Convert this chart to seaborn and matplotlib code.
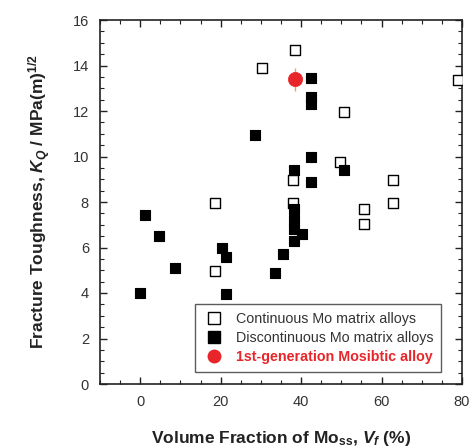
import matplotlib
matplotlib.use("Agg")
import matplotlib.pyplot as plt
import seaborn as sns
import pandas as pd
from matplotlib.lines import Line2D
from matplotlib.ticker import MultipleLocator

# ---- data ----
cont_x = [38.6, 30.4, 50.6, 78.9, 49.6, 37.9, 62.9, 18.6, 37.9, 55.7, 62.9, 55.7, 18.6]
cont_y = [14.7, 13.9, 11.95, 13.35, 9.75, 8.95, 8.95, 7.95, 7.95, 7.7, 7.95, 7.05, 4.95]

disc_x = [42.5, 42.5, 42.5, 28.5, 42.5, 38.3, 50.7, 42.5, 38.2, 38.3, 38.3, 38.3, 40.2,
          1.25, 4.6, 20.4, 21.25, 35.6, 8.75, 33.5, 0.0, 21.25]
disc_y = [13.45, 12.6, 12.3, 10.95, 10.0, 9.4, 9.4, 8.9, 7.7, 7.2, 6.8, 6.3, 6.6,
          7.45, 6.5, 6.0, 5.6, 5.7, 5.1, 4.9, 4.0, 3.95]

mosi_x = [38.6]
mosi_y = [13.4]
mosi_err = [0.5]

labels = ["Continuous Mo matrix alloys",
          "Discontinuous Mo matrix alloys",
          "1st-generation Mosibtic alloy"]

cont = pd.DataFrame({"x": cont_x, "y": cont_y})
disc = pd.DataFrame({"x": disc_x, "y": disc_y})
mosi = pd.DataFrame({"x": mosi_x, "y": mosi_y, "e": mosi_err})

sns.set_style("ticks")
plt.rcParams["font.family"] = ["Liberation Sans", "DejaVu Sans"]
plt.rcParams["mathtext.fontset"] = "custom"
plt.rcParams["mathtext.rm"] = "Liberation Sans"
plt.rcParams["mathtext.it"] = "Liberation Sans:italic:bold"
plt.rcParams["mathtext.bf"] = "Liberation Sans:bold"

fig = plt.figure(figsize=(4.71, 4.48), dpi=100)
ax = fig.add_axes([100/471, 1-384/448, 362/471, 364/448])

sns.scatterplot(data=cont, x="x", y="y", ax=ax, marker="s", s=60,
                facecolor="white", edgecolor="black", linewidth=1.0, zorder=3)
sns.scatterplot(data=disc, x="x", y="y", ax=ax, marker="s", s=60,
                color="black", edgecolor="black", linewidth=0.8, zorder=3)
ax.errorbar(mosi["x"], mosi["y"], yerr=mosi["e"], fmt="none", ecolor="#e8a060",
            elinewidth=1.0, capsize=0, zorder=4)
sns.scatterplot(data=mosi, x="x", y="y", ax=ax, marker="o", s=105,
                color="#e8262a", edgecolor="#e8262a", linewidth=0.5, zorder=5)

ax.set_xlim(-10, 80)
ax.set_ylim(0, 16)
ax.xaxis.set_major_locator(MultipleLocator(20))
ax.xaxis.set_minor_locator(MultipleLocator(5))
ax.yaxis.set_major_locator(MultipleLocator(2))
ax.yaxis.set_minor_locator(MultipleLocator(0.5))
ax.tick_params(which="both", direction="in", top=True, right=True,
               labelsize=10.5, labelcolor="#333333", color="#222222")
ax.tick_params(which="major", length=5, width=1, pad=8)
ax.tick_params(which="minor", length=3, width=0.8)
for sp in ax.spines.values():
    sp.set_linewidth(1.2)
    sp.set_color("#222222")

ax.set_xlabel(r"Volume Fraction of Mo$_{\mathbf{ss}}$, $V_f$ (%)",
              fontsize=12.5, fontweight="bold", color="#222222", labelpad=14)
ax.set_ylabel(r"Fracture Toughness, $K_Q$ / MPa(m)$^{\mathbf{1/2}}$",
              fontsize=12.5, fontweight="bold", color="#222222", labelpad=14)

handles = [
    Line2D([], [], marker="s", linestyle="none", markersize=8,
           markerfacecolor="white", markeredgecolor="black"),
    Line2D([], [], marker="s", linestyle="none", markersize=8,
           markerfacecolor="black", markeredgecolor="black"),
    Line2D([], [], marker="o", linestyle="none", markersize=9,
           markerfacecolor="#e8262a", markeredgecolor="#e8262a"),
]
leg = ax.legend(handles, labels, loc="lower right",
                bbox_to_anchor=((441-100)/362, (384-372)/364),
                borderaxespad=0,
                fontsize=10.3, frameon=True, fancybox=False, edgecolor="#333333",
                handlelength=1.6, handletextpad=0.7, borderpad=0.55, labelspacing=0.35)
leg.get_frame().set_linewidth(1.0)
txts = leg.get_texts()
txts[2].set_color("#e8262a")
txts[2].set_fontweight("bold")
for t in txts[:2]:
    t.set_color("#333333")

fig.savefig("out.png", dpi=100)
